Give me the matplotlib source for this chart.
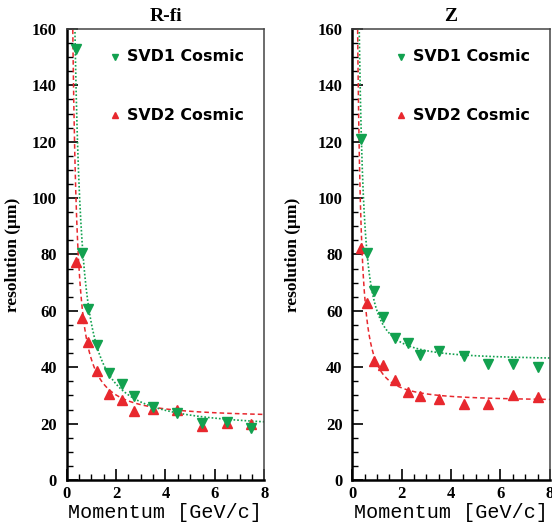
import numpy as np
import matplotlib
matplotlib.use('Agg')
import matplotlib.pyplot as plt
from matplotlib.ticker import MultipleLocator

# ── data ──
p_rfi = [0.38, 0.60, 0.85, 1.22, 1.71, 2.24, 2.73, 3.48, 4.47, 5.47, 6.48, 7.47]
svd1_rfi = [153.0, 80.5, 60.7, 47.8, 38.0, 34.0, 29.9, 25.9, 23.7, 20.2, 20.4, 18.6]
svd2_rfi = [77.3, 57.5, 49.0, 38.8, 30.6, 28.2, 24.6, 25.3, 24.7, 19.3, 20.2, 19.9]

p_z = [0.37, 0.60, 0.88, 1.24, 1.74, 2.25, 2.75, 3.51, 4.51, 5.49, 6.49, 7.50]
svd1_z = [120.8, 80.5, 67.0, 57.9, 50.4, 48.6, 44.2, 45.9, 43.9, 41.0, 41.2, 40.1]
svd2_z = [82.2, 62.9, 42.1, 40.7, 35.3, 31.1, 29.7, 28.6, 27.0, 27.0, 30.2, 29.3]

# fit curves: sigma = a + b / p^c
fit_rfi = {'svd1': (17.5, 38.0, 1.2), 'svd2': (22.0, 20.8, 1.35)}
fit_z = {'svd1': (42.5, 17.5, 1.5), 'svd2': (28.0, 13.2, 1.5)}

titles = ['R-fi', 'Z']

GREEN = '#12a14f'
RED = '#e8282e'
SERIF = 'Liberation Serif'

fig = plt.figure(figsize=(5.52, 5.22), dpi=100)
axes = [fig.add_axes([0.1208, 0.0805, 0.358, 0.864]),
        fig.add_axes([0.6382, 0.0805, 0.358, 0.864])]

panels = [(p_rfi, svd1_rfi, svd2_rfi, fit_rfi),
          (p_z, svd1_z, svd2_z, fit_z)]
ylab_x = [-0.231, -0.262]

pp = np.linspace(0.12, 8.0, 800)
for i, (ax, (p, s1, s2, fit)) in enumerate(zip(axes, panels)):
    a, b, c = fit['svd2']
    ax.plot(pp, a + b / pp ** c, color=RED, ls=(0, (3, 2)), lw=1.1)
    a, b, c = fit['svd1']
    ax.plot(pp, a + b / pp ** c, color=GREEN, ls=(0, (1, 1.2)), lw=1.2)
    ax.plot(p, s2, ls='none', marker='^', ms=6.5, color=RED, mec=RED)
    ax.plot(p, s1, ls='none', marker='v', ms=6.5, color=GREEN, mec=GREEN)

    ax.set_xlim(0, 8)
    ax.set_ylim(0, 160)
    ax.xaxis.set_major_locator(MultipleLocator(2))
    ax.xaxis.set_minor_locator(MultipleLocator(0.5))
    ax.yaxis.set_major_locator(MultipleLocator(20))
    ax.yaxis.set_minor_locator(MultipleLocator(5))
    ax.tick_params(which='both', direction='in', top=False, right=False)
    ax.tick_params(which='major', length=8, width=1.2)
    ax.tick_params(which='minor', length=4, width=1.0)
    ax.tick_params(axis='y', pad=7)
    ax.tick_params(axis='x', pad=4)
    for lab in ax.get_xticklabels() + ax.get_yticklabels():
        lab.set_fontfamily(SERIF)
        lab.set_fontweight('bold')
        lab.set_fontsize(12)
    for side in ['left', 'bottom']:
        ax.spines[side].set_linewidth(1.8)
    for side in ['top', 'right']:
        ax.spines[side].set_linewidth(1.1)
        ax.spines[side].set_color('#444444')

    ax.set_title(titles[i], family=SERIF, weight='bold', fontsize=14, pad=6)
    ax.set_ylabel('resolution (\u03bcm)', family=SERIF, weight='bold', fontsize=12.5)
    ax.yaxis.set_label_coords(ylab_x[i], 0.5)
    ax.set_xlabel('Momentum [GeV/c]', family='Liberation Mono', fontsize=14.5,
                  labelpad=1)

    # legend entries
    ax.plot([0.244], [0.938], transform=ax.transAxes, marker='v', ms=4.5,
            color=GREEN, ls='none')
    ax.plot([0.244], [0.809], transform=ax.transAxes, marker='^', ms=4.5,
            color=RED, ls='none')
    ax.text(0.305, 0.938, 'SVD1 Cosmic', transform=ax.transAxes, va='center',
            family='DejaVu Sans', weight='bold', fontsize=11.4)
    ax.text(0.305, 0.809, 'SVD2 Cosmic', transform=ax.transAxes, va='center',
            family='DejaVu Sans', weight='bold', fontsize=11.4)

fig.savefig('out.png', dpi=100)
